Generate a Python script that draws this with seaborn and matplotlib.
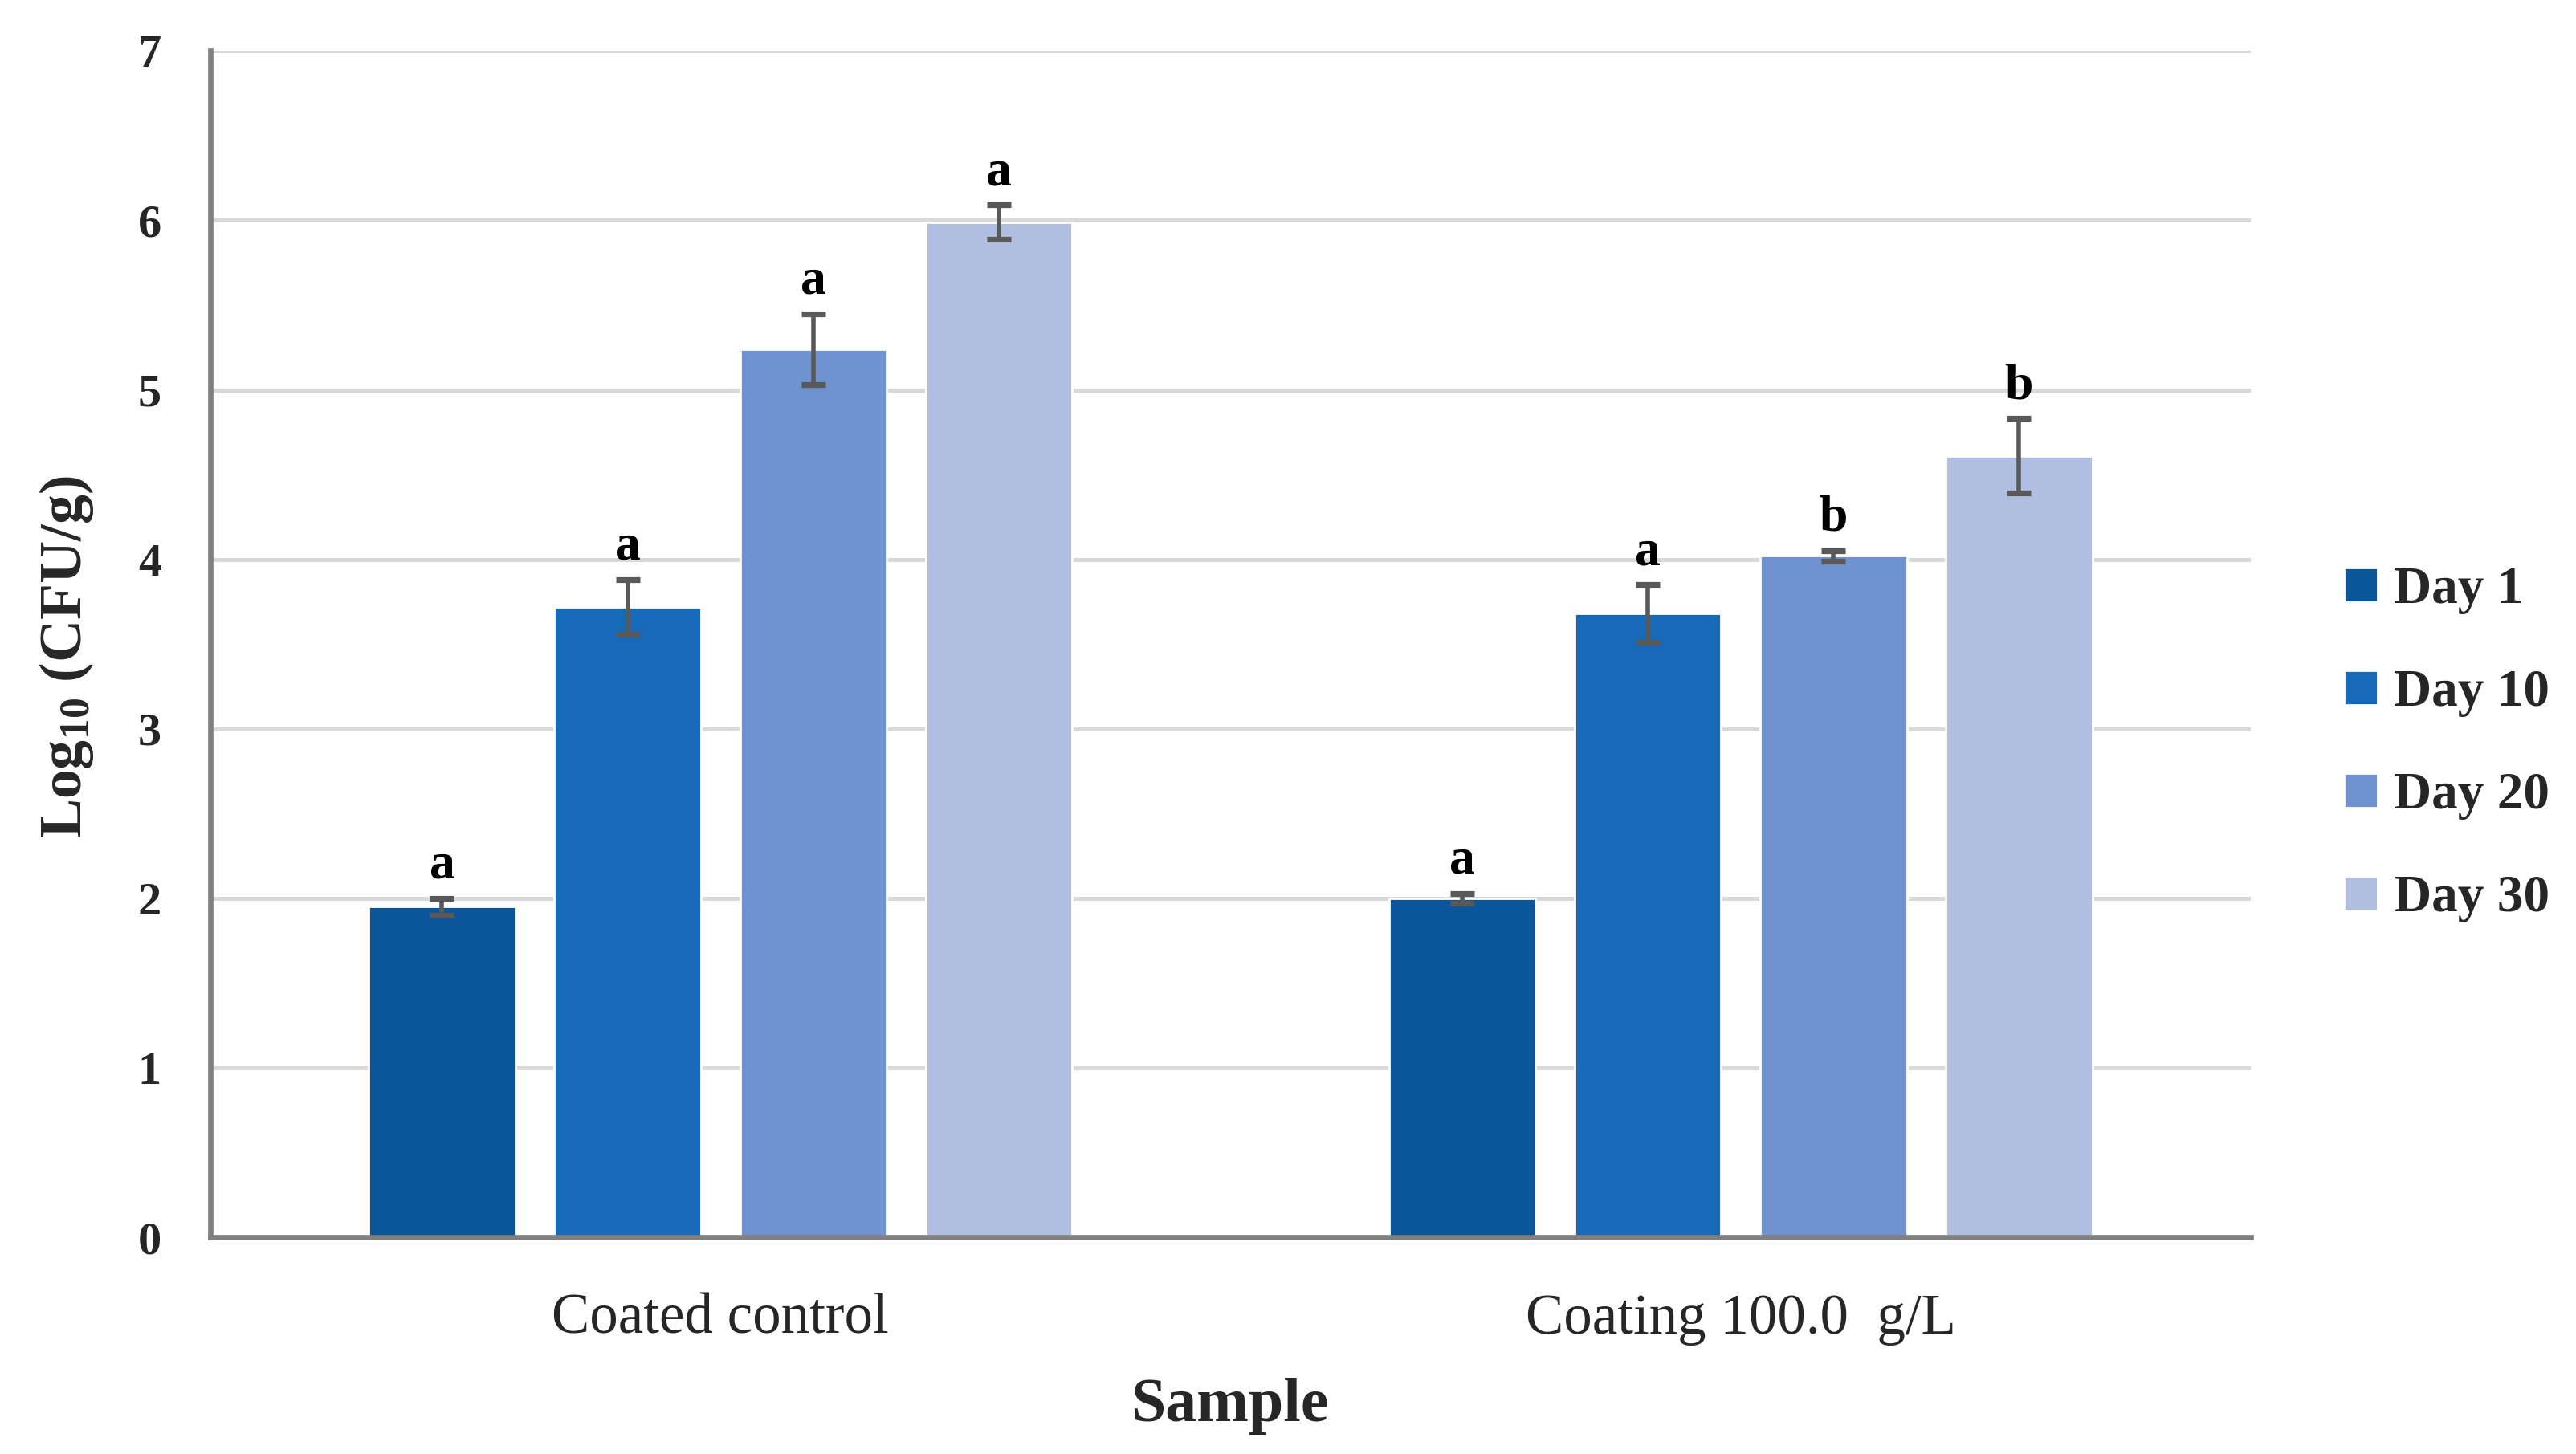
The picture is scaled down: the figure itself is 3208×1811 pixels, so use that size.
import numpy as np
import pandas as pd
import matplotlib
matplotlib.use('Agg')
import matplotlib.pyplot as plt
import seaborn as sns

# values
samples = ['Coated control', 'Coating 100.0  g/L']
days = ['Day 1', 'Day 10', 'Day 20', 'Day 30']
control_means = [1.95, 3.72, 5.24, 5.99]
control_err = [0.05, 0.16, 0.21, 0.10]
coating_means = [2.00, 3.68, 4.02, 4.61]
coating_err = [0.03, 0.17, 0.03, 0.22]
control_letters = ['a', 'a', 'a', 'a']
coating_letters = ['a', 'a', 'b', 'b']
day_colors = ['#0B559B', '#176ABA', '#7092CF', '#B0BFE1']

sns.set_style('white')
plt.rcParams['font.family'] = ['Liberation Serif', 'DejaVu Serif']
plt.rcParams['mathtext.default'] = 'regular'

df = pd.DataFrame({
    'Sample': np.repeat(samples, len(days)),
    'Day': days * len(samples),
    'Log': control_means + coating_means,
    'Err': control_err + coating_err,
    'Letter': control_letters + coating_letters,
})

fig = plt.figure(figsize=(16.04, 9.055), dpi=200)
ax = fig.add_axes([0.0817, 0.149, 0.792, 0.816])

sns.barplot(data=df, x='Sample', y='Log', hue='Day', order=samples, hue_order=days,
            palette=day_colors, width=0.728, gap=0.21, errorbar=None,
            saturation=1, ax=ax)

# custom error bars + significance letters
for i, day in enumerate(days):
    cont = ax.containers[i]
    for j, sample in enumerate(samples):
        row = df[(df['Sample'] == sample) & (df['Day'] == day)].iloc[0]
        p = cont.patches[j]
        xc = p.get_x() + p.get_width() / 2
        ax.errorbar(xc, row['Log'], yerr=row['Err'], fmt='none', ecolor='#595959',
                    elinewidth=2.0, capsize=5.5, capthick=2.6, zorder=4)
        ax.text(xc, row['Log'] + row['Err'] + 0.12, row['Letter'], ha='center',
                va='baseline', fontsize=23, fontweight='bold', color='black')

ax.set_xlim(-0.5, 1.5)
ax.set_ylim(0, 7)
ax.set_yticks(range(0, 8))
ax.set_axisbelow(True)
ax.yaxis.grid(True, color='#D9D9D9', linewidth=1.8)
ax.xaxis.grid(False)
for s in ['top', 'right']:
    ax.spines[s].set_visible(False)
for s in ['left', 'bottom']:
    ax.spines[s].set_color('#808080')
    ax.spines[s].set_linewidth(2.4)

ax.tick_params(axis='y', length=0, pad=22, labelsize=21)
ax.tick_params(axis='x', length=0, pad=25, labelsize=25.5)
for t in ax.get_yticklabels():
    t.set_fontweight('bold')

ax.set_xlabel('Sample', fontsize=28, fontweight='bold')
ax.xaxis.set_label_coords(0.5, -0.118)
ax.set_ylabel('Log$_{10}$ (CFU/g)', fontsize=26.5, fontweight='bold')
ax.yaxis.set_label_coords(-0.0565, 0.489)

handles, labels = ax.get_legend_handles_labels()
ax.legend(handles, labels, loc='center left', bbox_to_anchor=(0.91, 0.488),
          bbox_transform=fig.transFigure, frameon=False, borderpad=0,
          borderaxespad=0, handlelength=0.64, handleheight=0.64,
          handletextpad=0.3, labelspacing=1.04,
          prop={'size': 23.5, 'weight': 'bold'})

plt.savefig('out.png', dpi=200)
